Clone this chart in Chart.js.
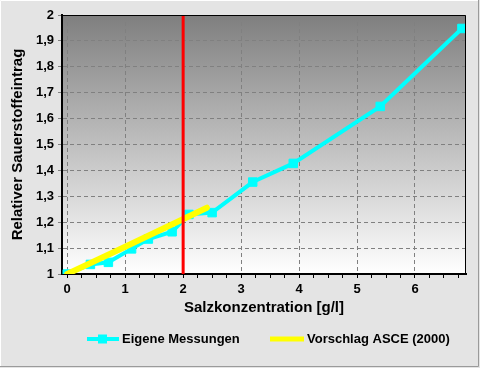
<!DOCTYPE html>
<html>
<head>
<meta charset="utf-8">
<script src="https://cdn.jsdelivr.net/npm/chart.js@4/dist/chart.umd.min.js"></script>
<style>
  html, body { margin: 0; padding: 0; background: #e4e4e4; }
  #wrap { width: 480px; height: 368px; position: relative; }
</style>
</head>
<body>
<div id="wrap"><canvas id="chart" width="480" height="368"></canvas></div>
<script>
// Messwerte
const messX = [0, 0.4, 0.71, 1.11, 1.4, 1.81, 2.1, 2.5, 3.2, 3.9, 5.4, 6.81];
const messY = [1.0, 1.037, 1.045, 1.097, 1.135, 1.163, 1.23, 1.237, 1.355, 1.427, 1.647, 1.948];
// ASCE-Vorschlag
const asceX = [0, 1, 2.41];
const asceY = [1.0, 1.105, 1.256];
// Grenzwert (rote Linie)
const grenzX = 2;
const xTicks = [0, 1, 2, 3, 4, 5, 6];
const yTicks = [1, 1.1, 1.2, 1.3, 1.4, 1.5, 1.6, 1.7, 1.8, 1.9, 2];

const FONT = "'Liberation Sans', Arial, sans-serif";

const toPts = (xs, ys) => xs.map((x, i) => ({ x: x, y: ys[i] }));

// Hintergrund, Rahmen und Legende
const deko = {
    id: 'deko',
    beforeDraw(chart) {
        const { ctx, chartArea: a } = chart;
        ctx.save();
        ctx.fillStyle = '#e4e4e4';
        ctx.fillRect(0, 0, chart.width, chart.height);
        const g = ctx.createLinearGradient(0, a.top, 0, a.bottom);
        g.addColorStop(0, '#7f7f7f');
        g.addColorStop(1, '#ffffff');
        ctx.fillStyle = g;
        ctx.fillRect(a.left, a.top, a.right - a.left, a.bottom - a.top);
        ctx.restore();
    },
    afterDraw(chart) {
        const { ctx, chartArea: a } = chart;
        ctx.save();
        // Rahmen oben / rechts
        ctx.strokeStyle = '#000';
        ctx.lineWidth = 1;
        ctx.beginPath();
        ctx.moveTo(a.left, a.top + 0.5);
        ctx.lineTo(a.right - 0.5, a.top + 0.5);
        ctx.lineTo(a.right - 0.5, a.bottom);
        ctx.stroke();
        // Fensterrahmen
        ctx.strokeStyle = '#9a9a9a';
        ctx.beginPath();
        ctx.moveTo(chart.width - 1.5, 0);
        ctx.lineTo(chart.width - 1.5, chart.height - 1.5);
        ctx.lineTo(0, chart.height - 1.5);
        ctx.stroke();
        ctx.strokeStyle = '#ffffff';
        ctx.beginPath();
        ctx.moveTo(0.5, chart.height - 2);
        ctx.lineTo(0.5, 0.5);
        ctx.lineTo(chart.width - 2, 0.5);
        ctx.stroke();

        // Legende
        const ly = 339;
        ctx.font = 'bold 13px ' + FONT;
        ctx.textBaseline = 'middle';
        ctx.fillStyle = '#000';
        ctx.strokeStyle = '#00ffff';
        ctx.lineWidth = 4;
        ctx.beginPath();
        ctx.moveTo(87, ly);
        ctx.lineTo(119, ly);
        ctx.stroke();
        ctx.fillStyle = '#00ffff';
        ctx.fillRect(98, ly - 4.5, 9, 9);
        ctx.fillStyle = '#000';
        ctx.fillText('Eigene Messungen', 122, ly);

        ctx.strokeStyle = '#ffff00';
        ctx.lineWidth = 5;
        ctx.beginPath();
        ctx.moveTo(270, ly);
        ctx.lineTo(304, ly);
        ctx.stroke();
        ctx.fillText('Vorschlag ASCE (2000)', 307, ly);
        ctx.restore();
    }
};

new Chart(document.getElementById('chart'), {
    type: 'line',
    data: {
        datasets: [
            {
                label: 'Grenze',
                data: [{ x: grenzX, y: 1 }, { x: grenzX, y: 2 }],
                borderColor: '#ff0000',
                borderWidth: 3,
                pointRadius: 0
            },
            {
                label: 'Vorschlag ASCE (2000)',
                data: toPts(asceX, asceY),
                borderColor: '#ffff00',
                borderWidth: 6,
                borderCapStyle: 'round',
                pointRadius: 0
            },
            {
                label: 'Eigene Messungen',
                data: toPts(messX, messY),
                borderColor: '#00ffff',
                backgroundColor: '#00ffff',
                borderWidth: 4,
                pointStyle: 'rect',
                pointRadius: 6,
                pointBorderWidth: 1
            }
        ]
    },
    options: {
        responsive: false,
        animation: false,
        layout: { padding: { top: 15, right: 14, bottom: 45, left: 0 } },
        plugins: {
            legend: { display: false },
            tooltip: { enabled: false }
        },
        scales: {
            x: {
                type: 'linear',
                min: -0.09,
                max: 6.88,
                afterBuildTicks: s => {
                    const t = [];
                    for (let i = 0; i <= 27; i++) t.push({ value: i / 4 });
                    s.ticks = t;
                },
                afterFit: s => { s.height = 49; },
                ticks: {
                    color: '#000',
                    font: { family: FONT, size: 13, weight: 'bold' },
                    padding: 4,
                    autoSkip: false,
                    maxRotation: 0,
                    callback: v => (xTicks.includes(v) ? String(v) : '')
                },
                grid: {
                    color: c => (xTicks.includes(c.tick.value) ? '#808080' : 'rgba(0,0,0,0)'),
                    tickColor: '#000',
                    tickLength: 4,
                    tickBorderDash: [],
                    borderDash: [4, 3]
                },
                border: { color: '#000', width: 2, dash: [4, 3] },
                title: {
                    display: true,
                    text: 'Salzkonzentration [g/l]',
                    color: '#000',
                    font: { family: FONT, size: 15, weight: 'bold' },
                    padding: { top: 0, bottom: 6 }
                }
            },
            y: {
                min: 1,
                max: 2,
                afterBuildTicks: s => { s.ticks = yTicks.map(v => ({ value: v })); },
                afterFit: s => { s.width = 62; },
                ticks: {
                    color: '#000',
                    font: { family: FONT, size: 13, weight: 'bold' },
                    padding: 4,
                    callback: v => String(Math.round(v * 10) / 10).replace('.', ',')
                },
                grid: {
                    color: '#808080',
                    tickColor: '#808080',
                    tickLength: 4
                },
                border: { color: '#000', width: 2, dash: [4, 3] },
                title: {
                    display: true,
                    text: 'Relativer Sauerstoffeintrag',
                    color: '#000',
                    font: { family: FONT, size: 15, weight: 'bold' },
                    padding: { top: 9, bottom: 0 }
                }
            }
        }
    },
    plugins: [deko]
});
</script>
</body>
</html>
